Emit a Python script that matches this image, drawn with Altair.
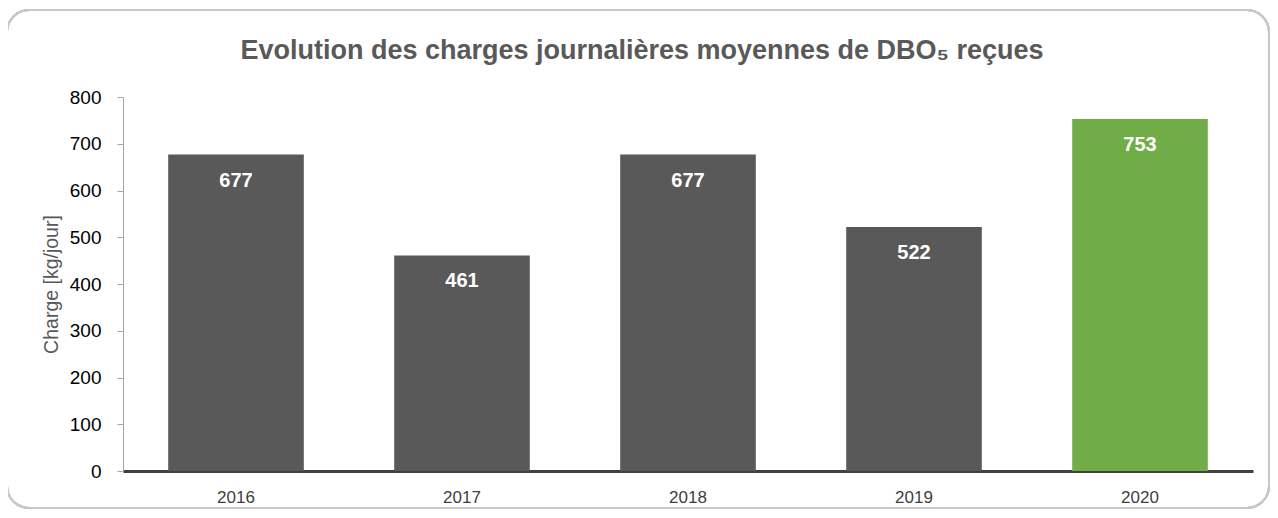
import altair as alt
import pandas as pd

years = ["2016", "2017", "2018", "2019", "2020"]
charges = [677, 461, 677, 522, 753]
bar_colors = ["#595959", "#595959", "#595959", "#595959", "#70AD47"]
title_text = ["Evolution des charges journalières moyennes de DBO₅ reçues"]

df = pd.DataFrame({"annee": years, "charge": charges, "couleur": bar_colors})
df_title = pd.DataFrame({"titre": title_text})

FONT = "Liberation Sans"

x_enc = alt.X(
    "annee:N",
    sort=years,
    scale=alt.Scale(paddingInner=0.4, paddingOuter=0.2),
    axis=alt.Axis(
        title=None, labelAngle=0, ticks=False, domainColor="#404040",
        domainWidth=3, labelFontSize=17, labelColor="#404040",
        labelFont=FONT, labelPadding=18,
    ),
)
y_enc = alt.Y(
    "charge:Q",
    scale=alt.Scale(domain=[0, 800]),
    axis=alt.Axis(
        title="Charge [kg/jour]", values=list(range(0, 801, 100)), grid=False,
        domainColor="#A6A6A6", tickColor="#A6A6A6", tickSize=6,
        labelFontSize=19, labelColor="#000000", labelFont=FONT, labelPadding=16,
        titleFont=FONT, titleFontSize=19.5, titleFontWeight="normal",
        titleColor="#595959", titlePadding=8,
    ),
)

border = alt.Chart(df).mark_rect(
    fill=None, stroke="#C8C8C8", strokeWidth=2, cornerRadius=22
).encode(
    x=alt.value(-116), x2=alt.value(1146), y=alt.value(-87), y2=alt.value(411)
)

title = alt.Chart(df_title).mark_text(
    font=FONT, fontSize=27, fontWeight="bold", color="#595959",
    align="center", baseline="middle",
).encode(x=alt.value(519), y=alt.value(-46), text="titre:N")

bars = alt.Chart(df).mark_bar().encode(
    x=x_enc, y=y_enc, color=alt.Color("couleur:N", scale=None, legend=None)
)

labels = alt.Chart(df).mark_text(
    color="white", fontWeight="bold", fontSize=20, font=FONT,
    baseline="middle", dy=26,
).encode(x=alt.X("annee:N", sort=years), y="charge:Q", text="charge:Q")

chart = alt.layer(border, title, bars, labels).properties(
    width=1130,
    height=374,
    autosize=alt.AutoSizeParams(type="none"),
    padding={"left": 115, "top": 89, "right": 17, "bottom": 39},
).configure_view(stroke=None)

chart.save("out.html", embed_options={"renderer": "svg", "actions": False})
